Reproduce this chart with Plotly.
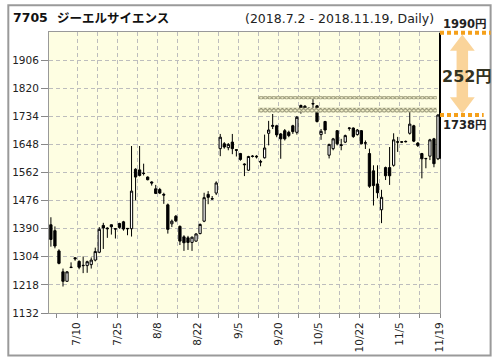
import plotly.graph_objects as go

# ---------------- data ----------------
DATES = (
    ["7/%d" % d for d in [2, 3, 4, 5, 6, 9, 10, 11, 12, 13, 17, 18, 19, 20, 23, 24, 25, 26, 27, 30, 31]]
    + ["8/%d" % d for d in [1, 2, 3, 6, 7, 8, 9, 10, 13, 14, 15, 16, 17, 20, 21, 22, 23, 24, 27, 28, 29, 30, 31]]
    + ["9/%d" % d for d in [3, 4, 5, 6, 7, 10, 11, 12, 13, 14, 18, 19, 20, 21, 25, 26, 27, 28]]
    + ["10/%d" % d for d in [1, 2, 3, 4, 5, 9, 10, 11, 12, 15, 16, 17, 18, 19, 22, 23, 24, 25, 26, 29, 30, 31]]
    + ["11/%d" % d for d in [1, 2, 5, 6, 7, 8, 9, 12, 13, 14, 15, 16, 19]]
)

OPEN = [1402, 1384, 1322, 1258, 1229, 1271, 1301, 1290, 1278, 1277,
        1280, 1294, 1318, 1400, 1392, 1402, 1390, 1406, 1411, 1391,
        1390, 1572, 1570, 1560, 1548, 1533, 1512, 1510, 1495, 1463,
        1405, 1428, 1397, 1365, 1362, 1348, 1352, 1375, 1413, 1495,
        1482, 1499, 1635, 1650, 1638, 1655, 1632, 1620, 1588, 1569,
        1611, 1612, 1596, 1607, 1682, 1703, 1705, 1680, 1690, 1685,
        1705, 1685, 1767, 1765, 1758, 1773, 1766, 1678, 1718, 1615,
        1635, 1690, 1647, 1655, 1697, 1698, 1678, 1690, 1653, 1620,
        1567, 1527, 1448, 1577, 1577, 1584, 1656, 1656, 1656, 1682,
        1705, 1652, 1620, 1604, 1612, 1665, 1604]
HIGH = [1425, 1397, 1327, 1268, 1260, 1287, 1302, 1293, 1305, 1292,
        1302, 1332, 1395, 1408, 1394, 1403, 1392, 1408, 1414, 1392,
        1643, 1575, 1643, 1589, 1550, 1535, 1524, 1515, 1500, 1467,
        1418, 1432, 1400, 1370, 1368, 1366, 1376, 1406, 1500, 1505,
        1490, 1535, 1680, 1655, 1652, 1680, 1633, 1622, 1590, 1613,
        1615, 1615, 1601, 1678, 1720, 1741, 1708, 1683, 1695, 1690,
        1708, 1735, 1770, 1768, 1762, 1793, 1768, 1695, 1720, 1650,
        1668, 1692, 1665, 1678, 1700, 1700, 1695, 1692, 1660, 1635,
        1584, 1584, 1509, 1580, 1640, 1682, 1671, 1658, 1660, 1750,
        1708, 1655, 1622, 1606, 1665, 1668, 1740]
LOW = [1335, 1330, 1281, 1213, 1228, 1270, 1292, 1266, 1254, 1255,
       1268, 1290, 1315, 1328, 1362, 1372, 1360, 1390, 1384, 1370,
       1366, 1477, 1550, 1553, 1538, 1522, 1496, 1496, 1466, 1375,
       1395, 1410, 1340, 1322, 1325, 1322, 1350, 1373, 1410, 1465,
       1479, 1493, 1612, 1635, 1630, 1618, 1611, 1598, 1551, 1567,
       1608, 1605, 1581, 1605, 1645, 1695, 1670, 1604, 1660, 1670,
       1680, 1678, 1742, 1750, 1752, 1756, 1715, 1662, 1680, 1605,
       1630, 1645, 1630, 1652, 1690, 1668, 1675, 1648, 1634, 1515,
       1461, 1483, 1407, 1539, 1524, 1580, 1625, 1652, 1654, 1678,
       1655, 1640, 1544, 1575, 1600, 1578, 1600]
CLOSE = [1357, 1337, 1284, 1229, 1258, 1272, 1298, 1272, 1277, 1289,
         1294, 1320, 1388, 1392, 1390, 1396, 1389, 1394, 1389, 1390,
         1505, 1548, 1553, 1559, 1540, 1530, 1498, 1499, 1493, 1388,
         1413, 1414, 1352, 1347, 1348, 1364, 1374, 1403, 1485, 1486,
         1481, 1530, 1670, 1640, 1648, 1635, 1630, 1602, 1586, 1611,
         1612, 1610, 1594, 1637, 1692, 1706, 1677, 1665, 1665, 1675,
         1687, 1731, 1747, 1755, 1756, 1772, 1718, 1688, 1692, 1648,
         1665, 1650, 1645, 1675, 1698, 1672, 1692, 1650, 1652, 1520,
         1522, 1500, 1486, 1552, 1552, 1662, 1655, 1655, 1657, 1710,
         1658, 1645, 1604, 1605, 1662, 1589, 1738]

TICK_LABELS = ["7/10", "7/25", "8/8", "8/22", "9/5", "9/20", "10/5", "10/22", "11/5", "11/19"]
Y_TICKS = [1132, 1218, 1304, 1390, 1476, 1562, 1648, 1734, 1820, 1906]
Y_RANGE = [1132, 1992]

BAND_LEVELS = [(1786, 1796), (1746, 1760)]
BAND_FROM = "9/13"

TARGET = 1990
LAST = CLOSE[-1]

CODE = "7705"
NAME = "ジーエルサイエンス"
PERIOD = "(2018.7.2 - 2018.11.19, Daily)"

# ---------------- geometry helpers ----------------
W, H = 496, 364
ML, MR, MT, MB = 46, 56, 32, 48
PW, PH = W - ML - MR, H - MT - MB


def px(x):
    return (x - ML) / PW


def py(y):
    return (H - MB - y) / PH


def pv(v):
    return (v - Y_RANGE[0]) / (Y_RANGE[1] - Y_RANGE[0])


xs = list(range(len(DATES)))
FONT = "DejaVu Sans, Verdana, Noto Sans CJK JP, sans-serif"
ORANGE = "#f5a01a"

fig = go.Figure()

# resistance bands
bx0 = DATES.index(BAND_FROM) - 0.6
bx1 = len(DATES) - 1 - 0.3
for lo, hi in BAND_LEVELS:
    fig.add_trace(go.Scatter(
        x=[bx0, bx1, bx1, bx0, bx0], y=[lo, lo, hi, hi, lo],
        mode="lines", line=dict(width=0), fill="toself",
        fillcolor="#b8b690",
        fillpattern=dict(shape="x", size=3, solidity=0.6, fgcolor="#333322", bgcolor="#f6f4cc"),
        hoverinfo="skip", showlegend=False))

fig.add_trace(go.Candlestick(
    x=xs, open=OPEN, high=HIGH, low=LOW, close=CLOSE,
    increasing=dict(line=dict(color="black", width=1), fillcolor="white"),
    decreasing=dict(line=dict(color="black", width=1), fillcolor="black"),
    whiskerwidth=0, hoverinfo="skip", showlegend=False))

major_idx = list(range(DATES.index(TICK_LABELS[0]), len(DATES), 5))
tickvals = [i + 0.5 for i in major_idx]
ticktext = [DATES[i] if DATES[i] in TICK_LABELS else "" for i in major_idx]
minor_vals = [i + 0.5 for i in range(major_idx[0] - 5, -1, -5)]

fig.update_layout(
    width=W, height=H,
    margin=dict(l=ML, r=MR, t=MT, b=MB, pad=0),
    paper_bgcolor="white", plot_bgcolor="#fefee2",
    showlegend=False, boxgap=0.2,
    font=dict(family=FONT, size=10.5, color="#222"),
)
fig.update_xaxes(
    range=[-0.47, len(DATES) - 0.5], tickmode="array", tickvals=tickvals, ticktext=ticktext,
    tickangle=-90, ticks="outside", ticklen=4, tickcolor="#888",
    showgrid=True, gridcolor="#bdbdbd", griddash="4px,3px", gridwidth=1,
    showline=True, linecolor="#999", linewidth=1, mirror=True, zeroline=False,
    rangeslider_visible=False, fixedrange=True,
    minor=dict(tickmode="array", tickvals=minor_vals, ticks="outside", ticklen=4,
               tickcolor="#888", showgrid=False),
)
fig.update_yaxes(
    range=Y_RANGE, tickmode="array", tickvals=Y_TICKS, ticks="outside", ticklen=7, tickcolor="#888",
    showgrid=True, gridcolor="#bdbdbd", griddash="4px,3px", gridwidth=1,
    showline=True, linecolor="#999", linewidth=1, mirror=True, zeroline=False, fixedrange=True,
)

shapes = []
# outer frame
shapes.append(dict(type="rect", xref="paper", yref="paper", x0=px(5), x1=px(491), y0=py(5), y1=py(359),
                   line=dict(color="#9a9a9a", width=2), fillcolor="rgba(0,0,0,0)", layer="below"))
# black vertical line from last open to target at the right edge
shapes.append(dict(type="line", xref="paper", yref="paper", x0=1, x1=1, y0=pv(OPEN[-1]), y1=pv(TARGET),
                   line=dict(color="black", width=2)))
# orange dotted level lines
shapes.append(dict(type="line", xref="paper", yref="paper", x0=1, x1=px(491), y0=pv(TARGET), y1=pv(TARGET),
                   line=dict(color=ORANGE, width=4, dash="4px,3px")))
shapes.append(dict(type="line", xref="paper", yref="paper", x0=1, x1=px(484), y0=pv(LAST), y1=pv(LAST),
                   line=dict(color=ORANGE, width=4, dash="4px,3px")))
# double arrow
cx, hw, sw = 462.5, 12.5, 5.8
yt, yb = 34.5, 114.5
hb1, hb2 = 51, 98
pts = [(cx, yt), (cx + hw, hb1), (cx + sw, hb1), (cx + sw, hb2), (cx + hw, hb2), (cx, yb),
       (cx - hw, hb2), (cx - sw, hb2), (cx - sw, hb1), (cx - hw, hb1)]
path = "M " + " L ".join("%.5f,%.5f" % (px(a), py(b)) for a, b in pts) + " Z"
shapes.append(dict(type="path", xref="paper", yref="paper", path=path,
                   fillcolor="rgba(245,160,30,0.45)", line=dict(width=0)))
fig.update_layout(shapes=shapes)

ann = []
ann.append(dict(text="<b>%s</b>" % CODE, x=px(8), y=py(17), xref="paper", yref="paper",
                xanchor="left", yanchor="middle", showarrow=False,
                font=dict(family=FONT, size=12.5, color="#111")))
ann.append(dict(text="<b>%s</b>" % NAME, x=px(52), y=py(17), xref="paper", yref="paper",
                xanchor="left", yanchor="middle", showarrow=False,
                font=dict(family="Noto Sans CJK JP, sans-serif", size=12.5, color="#111")))
ann.append(dict(text=PERIOD, x=px(435.5), y=py(18), xref="paper", yref="paper",
                xanchor="right", yanchor="middle", showarrow=False,
                font=dict(family=FONT, size=12.5, color="#222")))
ann.append(dict(text="<b>%d円</b>" % TARGET, x=px(465), y=py(23.5), xref="paper", yref="paper",
                xanchor="center", yanchor="middle", showarrow=False,
                font=dict(family=FONT, size=11.5, color="#222")))
ann.append(dict(text="<b>%d円</b>" % LAST, x=px(465), y=py(126), xref="paper", yref="paper",
                xanchor="center", yanchor="middle", showarrow=False,
                font=dict(family=FONT, size=11.5, color="#222")))
ann.append(dict(text="<b>%d円</b>" % (TARGET - LAST), x=px(466.5), y=py(77), xref="paper", yref="paper",
                xanchor="center", yanchor="middle", showarrow=False,
                font=dict(family=FONT, size=16, color="#333322")))
fig.update_layout(annotations=ann)

fig.write_html("out.html")
